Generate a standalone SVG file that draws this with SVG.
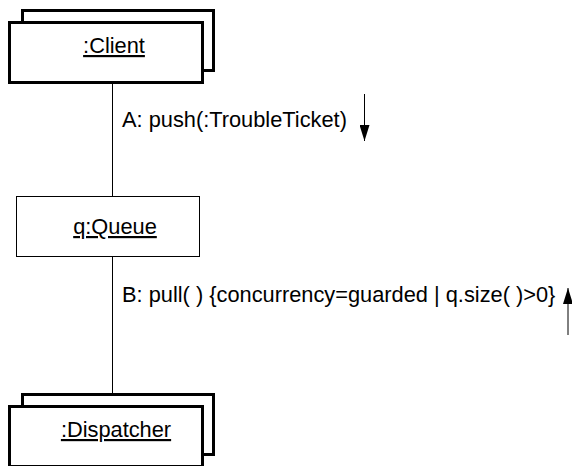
<svg xmlns="http://www.w3.org/2000/svg" width="572" height="466" viewBox="0 0 572 466">
<style>
text{font-family:"Liberation Sans",Arial,sans-serif;font-size:21.8px;fill:#000}
.name{text-anchor:middle;text-decoration:underline}
.multi{fill:#fff;stroke:#000;stroke-width:3}
.single{fill:#fff;stroke:#000;stroke-width:1}
.link{stroke:#000;stroke-width:1;fill:none}
</style>
<defs>
<marker id="ah" viewBox="0 0 16 10" refX="16" refY="5" markerWidth="16" markerHeight="10" markerUnits="userSpaceOnUse" orient="auto">
<path d="M0,0 L16,5 L0,10 Z" fill="#000"/>
</marker>
</defs>
<g id="connectors">
<line class="link" x1="112.5" y1="84" x2="112.5" y2="196"/>
<line class="link" x1="112.5" y1="257" x2="112.5" y2="393"/>
<line class="link" x1="364.5" y1="94" x2="364.5" y2="141" marker-end="url(#ah)"/>
<line class="link" x1="568" y1="335" x2="568" y2="288" marker-end="url(#ah)"/>
<text x="122" y="127">A: push(:TroubleTicket)</text>
<text x="122" y="302">B: pull( ) {concurrency=guarded | q.size( )&gt;0}</text>
</g>
<g id="client">
<rect class="multi" x="22.5" y="10.5" width="191" height="60"/>
<rect class="multi" x="9.5" y="22.5" width="193" height="60"/>
<text class="name" x="114" y="53">:Client</text>
</g>
<g id="queue">
<rect class="single" x="16.5" y="196.5" width="183" height="60"/>
<text class="name" x="115" y="234">q:Queue</text>
</g>
<g id="dispatcher">
<rect class="multi" x="22.5" y="394.5" width="191" height="60"/>
<rect class="multi" x="9.5" y="406.5" width="193" height="60"/>
<text class="name" x="116" y="437">:Dispatcher</text>
</g>
</svg>
